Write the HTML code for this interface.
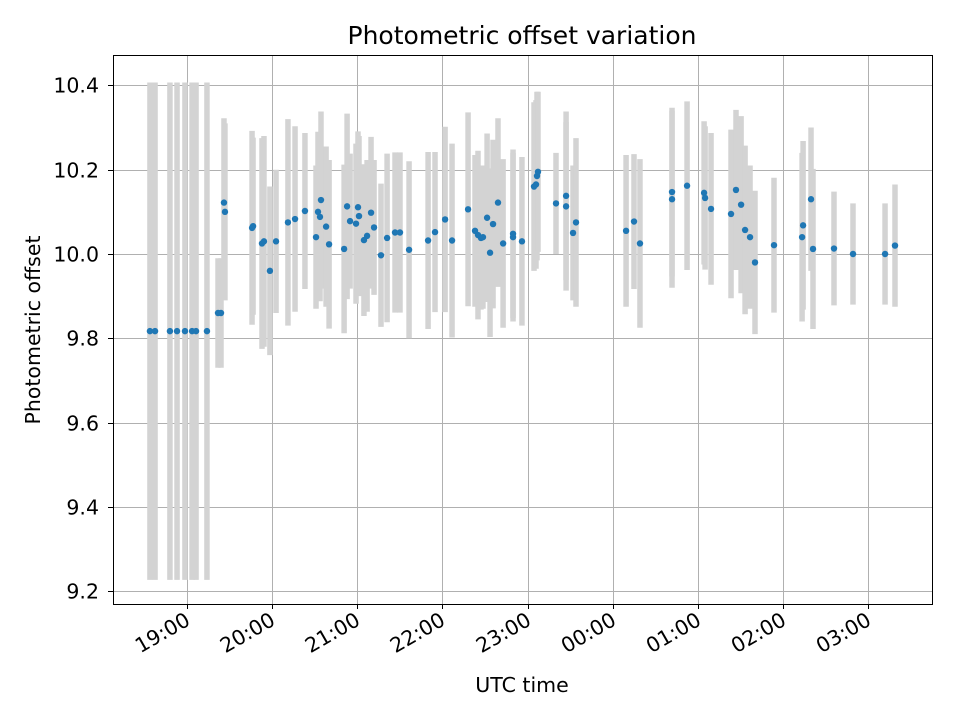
<!DOCTYPE html>
<html><head><meta charset="utf-8">
<style>
html,body{margin:0;padding:0;background:#fff;}
svg{display:block;font-family:"DejaVu Sans","Liberation Sans",sans-serif;}
</style></head>
<body>
<svg id="chart" width="960" height="720" viewBox="0 0 960 720">
<rect x="0" y="0" width="960" height="720" fill="#fff"/>
<g id="grid"></g>
<g id="bars"></g>
<g id="pts"></g>
<rect x="113.5" y="55.5" width="819" height="549" fill="none" stroke="#000" stroke-width="1"/>
<g id="axes"></g>
<text x="522" y="44" text-anchor="middle" font-size="25">Photometric offset variation</text>
<text x="522" y="692" text-anchor="middle" font-size="20.5">UTC time</text>
<text transform="translate(40,330) rotate(-90)" text-anchor="middle" font-size="20.5">Photometric offset</text>
</svg>
<script>
// minutes since 18:00 UTC
const times=[33.8,37.4,47.9,52.9,58.5,63.5,66.3,74.0,81.8,83.9,86.0,86.7,105.8,106.5,112.8,114.2,118.4,122.7,131.1,136.1,143.1,150.9,152.3,154.4,153.7,158.0,160.1,170.7,172.8,174.9,179.1,180.5,181.2,184.7,186.9,189.7,191.8,196.7,201.0,206.6,210.1,216.5,229.9,234.8,241.9,246.8,258.1,263.0,265.1,267.2,268.6,271.5,273.6,275.7,279.2,282.8,289.8,289.8,296.1,304.6,306.0,306.7,307.4,320.1,327.2,327.2,332.1,334.2,369.5,375.1,379.3,401.9,401.9,412.5,424.5,425.2,429.4,443.5,447.0,450.6,453.4,456.9,460.4,473.8,493.6,494.3,499.9,501.3,516.1,529.5,552.1,559.1];
const offsets=[9.817,9.817,9.817,9.817,9.817,9.817,9.817,9.817,9.86,9.86,10.122,10.10,10.062,10.066,10.025,10.03,9.96,10.03,10.075,10.083,10.102,10.04,10.1,10.128,10.088,10.065,10.023,10.012,10.113,10.078,10.072,10.111,10.09,10.033,10.043,10.098,10.063,9.997,10.038,10.051,10.051,10.01,10.032,10.052,10.082,10.032,10.106,10.055,10.045,10.038,10.04,10.086,10.003,10.071,10.122,10.025,10.04,10.048,10.03,10.16,10.165,10.185,10.195,10.12,10.113,10.138,10.05,10.075,10.055,10.077,10.025,10.13,10.147,10.162,10.145,10.133,10.107,10.095,10.152,10.117,10.057,10.04,9.98,10.021,10.04,10.068,10.13,10.012,10.013,10.0,10.0,10.02];
const errors=[0.59,0.59,0.59,0.59,0.59,0.59,0.59,0.59,0.13,0.13,0.2,0.21,0.23,0.21,0.25,0.25,0.2,0.17,0.245,0.22,0.185,0.17,0.19,0.21,0.2,0.19,0.2,0.2,0.22,0.16,0.19,0.18,0.19,0.18,0.18,0.18,0.16,0.17,0.2,0.19,0.19,0.21,0.21,0.19,0.22,0.23,0.23,0.18,0.2,0.17,0.17,0.2,0.2,0.2,0.2,0.2,0.2,0.2,0.2,0.2,0.2,0.2,0.19,0.12,0.2,0.2,0.16,0.2,0.18,0.16,0.2,0.21,0.2,0.2,0.17,0.17,0.18,0.2,0.19,0.21,0.2,0.17,0.17,0.16,0.2,0.2,0.17,0.19,0.135,0.12,0.12,0.145];
const yTicks=[9.2,9.4,9.6,9.8,10.0,10.2,10.4];
const yTickLabels=["9.2","9.4","9.6","9.8","10.0","10.2","10.4"];
const xTicks=[60,120,180,240,300,360,420,480,540];
const xTickLabels=["19:00","20:00","21:00","22:00","23:00","00:00","01:00","02:00","03:00"];

const NS="http://www.w3.org/2000/svg";
const L=113,R=932,T=55,B=604;
function xs(m){return 102+m/60*85.1;}
function ys(v){return 254-(v-10)*421.5;}
function mk(tag,attrs,parent){const e=document.createElementNS(NS,tag);for(const k in attrs)e.setAttribute(k,attrs[k]);parent.appendChild(e);return e;}
const grid=document.getElementById('grid'),axes=document.getElementById('axes'),bars=document.getElementById('bars'),pts=document.getElementById('pts');

yTicks.forEach((v,i)=>{
  const y=Math.round(ys(v))+0.5;
  const g=mk('line',{x1:L,x2:R,y1:y,y2:y,stroke:'#b0b0b0','stroke-width':1},grid);
  
  
  const t=mk('line',{x1:L-5,x2:L,y1:y,y2:y,stroke:'#000','stroke-width':1},axes);
  
  
  const lb=mk('text',{x:L-14,y:y+7,'text-anchor':'end','font-size':'20.5'},axes);
  lb.textContent=yTickLabels[i];
  
  
});
xTicks.forEach((m,i)=>{
  const x=Math.round(xs(m))+0.5;
  const g=mk('line',{x1:x,x2:x,y1:T,y2:B,stroke:'#b0b0b0','stroke-width':1},grid);
  
  
  const t=mk('line',{x1:x,x2:x,y1:B,y2:B+5,stroke:'#000','stroke-width':1},axes);
  
  
  const lb=mk('text',{x:x+4,y:B+20,'text-anchor':'end','font-size':'20.5',transform:'rotate(-30 '+(x+4)+' '+(B+20)+')'},axes);
  lb.textContent=xTickLabels[i];
  
  
});
times.forEach((m,i)=>{
  const x=xs(m),v=offsets[i],e=errors[i];
  const b=mk('line',{x1:x,x2:x,y1:ys(v+e),y2:ys(v-e),stroke:'#d3d3d3','stroke-width':5.5},bars);
  
  
  const c=mk('circle',{cx:x,cy:ys(v),r:3.2,fill:'#1f77b4'},pts);
  
  
});
</script>
</body></html>
